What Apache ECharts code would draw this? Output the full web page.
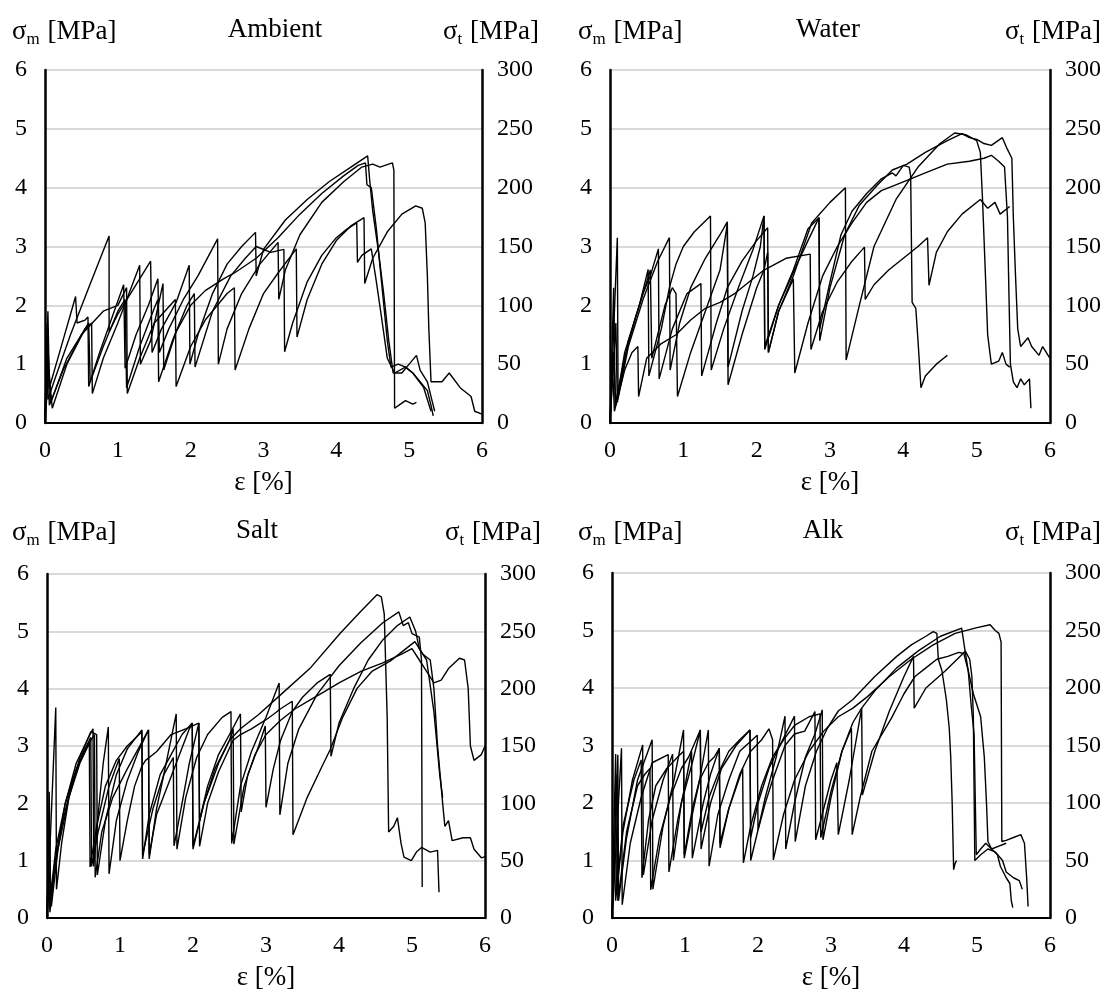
<!DOCTYPE html>
<html>
<head>
<meta charset="utf-8">
<script src="https://cdn.jsdelivr.net/npm/echarts@6/dist/echarts.min.js"></script>
<style>html,body{margin:0;padding:0;background:#fff;}#c{width:1113px;height:999px;}</style>
</head>
<body>
<div id="c"></div>
<script>
// ---------- panel names / tick settings ----------
const panelNames = ['Ambient', 'Water', 'Salt', 'Alk'];
const strainTicks = [0, 1, 2, 3, 4, 5, 6];
const matrixStressMax = 6;     // σm axis 0..6
const textileStressMax = 300;  // σt axis 0..300

// ---------- Ambient: [ε %, σm MPa] ----------
const ambient1 = [[0,0],[0.02,1.4],[0.04,0.4],[0.15,0.8],[0.35,1.5],[0.6,2.3],[0.88,3.18],[0.88,1.55],[1.0,1.85],[1.2,2.25],[1.45,2.75],[1.47,1.2],[1.6,1.6],[1.8,2.05],[1.98,2.68],[1.99,1.0],[2.1,1.5],[2.3,2.2],[2.5,2.7],[2.7,3.0],[2.89,3.24],[2.9,2.5],[3.0,2.95],[3.3,3.45],[3.6,3.8],[3.9,4.1],[4.2,4.35],[4.43,4.54],[4.46,4.1],[4.5,3.6],[4.58,2.9],[4.65,2.2],[4.72,1.4],[4.78,0.85],[4.9,0.85],[5.0,1.0],[5.1,1.15],[5.15,0.9],[5.25,0.7],[5.32,0.35],[5.35,0.2]];
const ambient2 = [[0,0],[0.04,1.9],[0.06,0.6],[0.2,1.2],[0.42,2.15],[0.44,1.7],[0.55,1.75],[0.59,1.8],[0.6,0.62],[0.75,1.2],[0.95,1.9],[1.08,2.35],[1.1,0.93],[1.25,1.5],[1.42,2.0],[1.55,2.45],[1.57,1.2],[1.7,1.6],[1.9,2.1],[2.1,2.5],[2.37,3.13],[2.38,1.0],[2.5,1.6],[2.7,2.2],[2.95,2.7],[3.2,3.07],[3.21,2.1],[3.3,2.6],[3.5,3.2],[3.8,3.75],[4.1,4.1],[4.35,4.35],[4.5,4.4],[4.6,4.35],[4.77,4.42],[4.79,4.3],[4.8,0.25],[4.88,0.32],[4.95,0.38],[5.05,0.32],[5.1,0.35]];
const ambient3 = [[0,0],[0.05,0.9],[0.1,0.25],[0.3,1.0],[0.55,1.6],[0.64,1.7],[0.65,0.5],[0.8,1.1],[1.0,1.7],[1.3,2.68],[1.31,1.0],[1.45,1.4],[1.62,2.37],[1.63,0.9],[1.8,1.55],[2.0,2.0],[2.2,2.25],[2.45,2.45],[2.6,2.55],[2.9,2.8],[3.2,3.15],[3.5,3.55],[3.8,3.9],[4.1,4.2],[4.3,4.38],[4.4,4.42],[4.42,4.05],[4.48,4.0],[4.55,3.3],[4.62,2.4],[4.7,1.4],[4.75,0.95],[4.85,1.0],[4.95,0.95],[5.05,0.85],[5.15,0.7],[5.25,0.55],[5.3,0.3],[5.33,0.12]];
const ambient4 = [[0,0],[0.03,1.7],[0.06,0.3],[0.25,0.9],[0.5,1.5],[0.8,1.9],[1.0,2.0],[1.12,2.3],[1.13,0.5],[1.3,1.1],[1.5,1.7],[1.79,2.1],[1.8,0.62],[2.0,1.3],[2.2,1.75],[2.5,2.2],[2.6,2.3],[2.61,0.9],[2.8,1.6],[3.0,2.2],[3.2,2.55],[3.45,2.96],[3.46,1.46],[3.6,2.1],[3.8,2.7],[4.0,3.1],[4.2,3.35],[4.38,3.49],[4.39,2.37],[4.5,2.8],[4.7,3.25],[4.9,3.55],[5.09,3.69],[5.18,3.65],[5.22,3.4],[5.25,2.5],[5.27,1.6],[5.3,0.7],[5.45,0.7],[5.55,0.85],[5.7,0.6],[5.85,0.45],[5.9,0.2],[6.0,0.15]];
const ambient5 = [[0,0],[0.04,1.3],[0.08,0.35],[0.3,1.1],[0.6,1.7],[0.62,0.7],[0.8,1.3],[1.0,1.9],[1.1,2.1],[1.12,0.6],[1.3,1.3],[1.5,1.95],[1.55,2.1],[1.56,0.7],[1.75,1.4],[1.95,2.0],[2.05,2.2],[2.06,0.95],[2.3,1.9],[2.55,2.5],[2.75,2.8],[2.9,3.0],[3.1,2.9],[3.28,2.95],[3.29,1.21],[3.4,1.7],[3.6,2.4],[3.8,2.85],[4.0,3.15],[4.15,3.3],[4.28,3.4],[4.29,2.73],[4.35,2.85],[4.48,2.96],[4.55,2.4],[4.62,1.8],[4.7,1.1],[4.8,0.85],[4.95,0.95],[5.05,0.85],[5.2,0.6],[5.3,0.2]];

// ---------- Water ----------
const water1 = [[0,0],[0.05,1.2],[0.08,0.3],[0.2,1.2],[0.4,2.0],[0.52,2.61],[0.53,0.8],[0.7,1.6],[0.81,2.3],[0.9,2.7],[1.0,3.0],[1.15,3.25],[1.37,3.52],[1.38,0.9],[1.55,1.6],[1.75,2.3],[1.95,2.95],[2.1,3.52],[2.11,1.3],[2.3,2.0],[2.55,2.7],[2.7,3.1],[2.85,3.49],[2.86,1.6],[3.0,2.4],[3.15,3.2],[3.3,3.6],[3.5,3.9],[3.7,4.15],[3.85,4.25],[3.9,4.2],[4.0,4.38],[4.08,4.35],[4.1,4.2],[4.12,2.05],[4.17,1.95],[4.2,1.4],[4.24,0.6],[4.3,0.8],[4.45,1.0],[4.55,1.1],[4.6,1.15]];
const water2 = [[0,0],[0.1,3.15],[0.11,0.45],[0.25,1.4],[0.45,2.2],[0.55,2.5],[0.66,2.96],[0.67,0.75],[0.85,1.6],[1.05,2.2],[1.24,2.37],[1.25,0.8],[1.45,1.7],[1.6,2.3],[1.8,2.75],[2.0,3.1],[2.15,3.32],[2.16,1.2],[2.3,1.9],[2.5,2.5],[2.75,3.4],[3.0,3.75],[3.21,4.0],[3.22,1.07],[3.4,2.0],[3.6,3.0],[3.9,3.8],[4.2,4.35],[4.5,4.75],[4.7,4.93],[4.85,4.9],[5.0,4.8],[5.05,4.6],[5.08,3.8],[5.12,2.5],[5.15,1.5],[5.2,1.0],[5.3,1.05],[5.35,1.2],[5.4,1.0],[5.45,0.95]];
const water3 = [[0,0],[0.08,1.7],[0.1,0.35],[0.25,1.3],[0.45,2.1],[0.65,2.75],[0.81,3.15],[0.82,0.9],[0.95,1.7],[1.1,2.3],[1.3,2.8],[1.5,3.2],[1.6,3.42],[1.61,0.95],[1.8,1.9],[1.95,2.5],[2.05,3.0],[2.1,3.52],[2.11,1.25],[2.3,2.0],[2.5,2.6],[2.7,3.3],[2.85,3.49],[2.86,1.4],[3.0,2.3],[3.2,3.2],[3.4,3.7],[3.65,4.05],[3.85,4.3],[4.05,4.4],[4.3,4.6],[4.6,4.8],[4.8,4.92],[4.9,4.85],[5.0,4.82],[5.1,4.75],[5.2,4.72],[5.35,4.85],[5.42,4.65],[5.48,4.5],[5.5,3.5],[5.53,2.5],[5.56,1.6],[5.6,1.3],[5.7,1.45],[5.75,1.3],[5.85,1.15],[5.9,1.3],[6.0,1.1]];
const water4 = [[0,0],[0.05,2.3],[0.07,0.3],[0.2,1.1],[0.35,1.8],[0.5,2.4],[0.55,2.6],[0.57,1.1],[0.75,2.0],[0.85,2.3],[0.9,2.2],[0.92,0.45],[1.1,1.2],[1.3,1.9],[1.5,2.6],[1.6,3.38],[1.61,0.65],[1.8,1.5],[2.0,2.3],[2.1,2.6],[2.15,2.9],[2.16,1.2],[2.3,1.9],[2.5,2.45],[2.52,0.85],[2.7,1.7],[2.9,2.5],[3.1,3.0],[3.3,3.4],[3.5,3.75],[3.7,3.95],[4.0,4.1],[4.3,4.25],[4.6,4.4],[4.9,4.45],[5.1,4.5],[5.2,4.55],[5.3,4.45],[5.38,4.35],[5.42,3.5],[5.44,2.2],[5.46,1.0],[5.5,0.7],[5.55,0.6],[5.6,0.75],[5.65,0.65],[5.72,0.75],[5.74,0.25]];
const water5 = [[0,0],[0.03,1.1],[0.06,0.2],[0.2,0.9],[0.3,1.2],[0.38,1.3],[0.39,0.45],[0.5,1.1],[0.7,1.35],[0.9,1.5],[1.1,1.75],[1.3,1.95],[1.5,2.05],[1.7,2.2],[1.9,2.4],[2.1,2.6],[2.4,2.8],[2.73,2.87],[2.74,1.25],[2.9,1.9],[3.1,2.4],[3.3,2.75],[3.47,2.99],[3.48,2.1],[3.6,2.35],[3.8,2.6],[4.0,2.8],[4.2,3.0],[4.33,3.15],[4.35,2.34],[4.45,2.9],[4.6,3.25],[4.8,3.55],[5.05,3.8],[5.15,3.65],[5.25,3.75],[5.32,3.55],[5.45,3.68]];

// ---------- Salt ----------
const salt1 = [[0,0],[0.12,3.67],[0.13,0.5],[0.2,1.3],[0.3,2.1],[0.45,2.8],[0.6,3.25],[0.68,3.2],[0.69,0.75],[0.8,1.7],[0.95,2.5],[1.1,2.95],[1.3,3.28],[1.31,1.03],[1.4,1.8],[1.55,2.5],[1.7,2.85],[1.85,3.2],[1.99,3.40],[2.0,1.2],[2.15,2.0],[2.3,2.6],[2.5,3.1],[2.65,3.3],[2.9,3.55],[3.18,3.87],[3.6,4.35],[4.02,4.97],[4.3,5.35],[4.52,5.64],[4.58,5.6],[4.62,5.3],[4.66,3.5],[4.68,1.5],[4.75,1.6],[4.8,1.75],[4.85,1.3],[4.89,1.06],[4.99,1.0],[5.06,1.15],[5.13,1.23],[5.25,1.15],[5.35,1.18],[5.37,0.45]];
const salt2 = [[0,0],[0.03,1.6],[0.05,0.3],[0.1,0.9],[0.25,2.0],[0.4,2.7],[0.55,3.1],[0.63,3.3],[0.64,0.9],[0.7,1.8],[0.77,2.7],[0.84,3.33],[0.85,0.77],[0.95,1.7],[1.1,2.4],[1.25,2.9],[1.39,3.28],[1.4,1.03],[1.5,1.9],[1.6,2.5],[1.77,3.56],[1.78,1.2],[1.9,2.1],[2.05,2.8],[2.2,3.2],[2.4,3.5],[2.52,3.6],[2.53,1.3],[2.65,2.3],[2.8,2.9],[3.0,3.5],[3.18,4.1],[3.19,1.8],[3.3,2.7],[3.45,3.3],[3.7,3.9],[4.0,4.4],[4.3,4.8],[4.6,5.15],[4.82,5.34],[4.88,5.1],[4.95,5.15],[5.0,4.96],[5.1,4.9],[5.13,4.5],[5.14,0.54]];
const salt3 = [[0,0],[0.02,0.9],[0.04,0.1],[0.1,0.8],[0.2,1.6],[0.35,2.4],[0.5,2.9],[0.6,3.15],[0.61,0.9],[0.7,1.5],[0.85,2.3],[0.99,2.78],[1.0,1.0],[1.1,1.7],[1.2,2.3],[1.3,2.65],[1.35,2.75],[1.5,2.9],[1.7,3.2],[1.9,3.3],[2.08,3.40],[2.09,1.7],[2.2,2.3],[2.35,2.85],[2.5,3.2],[2.65,3.56],[2.66,1.85],[2.75,2.5],[2.9,3.0],[2.99,3.35],[3.0,1.93],[3.1,2.6],[3.2,3.1],[3.36,3.6],[3.5,3.85],[3.7,4.1],[3.88,4.25],[3.89,2.82],[4.0,3.4],[4.2,4.0],[4.4,4.5],[4.6,4.85],[4.8,5.1],[4.97,5.25],[5.05,5.0],[5.1,4.7],[5.2,4.5],[5.3,3.6],[5.38,2.5],[5.42,2.1]];
const salt4 = [[0,0],[0.04,0.8],[0.06,0.2],[0.15,1.2],[0.3,2.1],[0.45,2.7],[0.58,3.05],[0.59,0.89],[0.68,1.6],[0.8,2.3],[0.95,2.75],[1.1,3.0],[1.3,3.25],[1.31,1.1],[1.45,1.9],[1.6,2.5],[1.73,2.8],[1.74,1.26],[1.85,2.0],[1.95,2.7],[2.08,3.40],[2.09,1.25],[2.2,2.0],[2.35,2.55],[2.55,3.1],[2.65,3.2],[2.8,3.3],[2.99,3.45],[3.1,3.55],[3.2,3.65],[3.36,3.78],[3.37,1.45],[3.56,2.09],[3.75,2.6],[3.88,2.94],[4.05,3.5],[4.25,4.01],[4.45,4.3],[4.7,4.48],[5.04,4.82],[5.15,4.6],[5.25,4.5],[5.3,4.0],[5.35,3.0],[5.42,2.0],[5.45,1.6],[5.5,1.7],[5.55,1.35],[5.7,1.4],[5.8,1.4],[5.85,1.2],[5.95,1.05],[6.0,1.07]];
const salt5 = [[0,0],[0.03,2.2],[0.05,0.4],[0.12,1.2],[0.25,2.0],[0.4,2.6],[0.55,3.0],[0.65,3.2],[0.66,0.71],[0.75,1.5],[0.9,2.1],[1.1,2.6],[1.25,2.95],[1.39,3.28],[1.4,1.1],[1.5,1.8],[1.65,2.3],[1.8,2.8],[1.95,3.3],[1.99,3.38],[2.0,1.25],[2.15,2.0],[2.35,2.7],[2.5,3.1],[2.55,3.3],[2.56,1.29],[2.7,2.3],[2.85,2.85],[3.0,3.2],[3.2,3.45],[3.4,3.65],[3.6,3.8],[3.8,3.95],[4.0,4.1],[4.3,4.3],[4.6,4.45],[4.85,4.6],[5.0,4.7],[5.1,4.5],[5.2,4.3],[5.3,4.1],[5.4,4.15],[5.5,4.35],[5.65,4.53],[5.72,4.5],[5.77,4.0],[5.8,3.0],[5.85,2.75],[5.95,2.85],[6.0,3.0]];

// ---------- Alk ----------
const alk1 = [[0,0],[0.05,2.85],[0.06,0.4],[0.15,1.5],[0.28,2.4],[0.42,3.01],[0.43,0.75],[0.55,1.7],[0.7,2.4],[0.83,2.85],[0.84,1.0],[0.95,2.0],[1.1,2.7],[1.21,3.27],[1.22,1.2],[1.35,2.0],[1.5,2.6],[1.7,3.0],[1.89,3.27],[1.9,1.4],[2.0,2.0],[2.15,2.6],[2.3,3.0],[2.5,3.51],[2.51,1.33],[2.65,2.3],[2.8,2.9],[2.95,3.3],[3.1,3.6],[3.3,3.8],[3.6,4.2],[3.9,4.55],[4.1,4.75],[4.3,4.9],[4.4,4.98],[4.45,4.95],[4.47,4.5],[4.52,4.3],[4.58,3.8],[4.62,3.3],[4.64,2.8],[4.66,2.0],[4.68,0.84],[4.7,0.95],[4.72,1.0]];
const alk2 = [[0,0],[0.08,2.84],[0.09,0.3],[0.2,1.4],[0.35,2.4],[0.55,3.10],[0.56,0.5],[0.7,1.6],[0.85,2.4],[0.98,3.27],[0.99,1.04],[1.1,1.8],[1.2,2.4],[1.32,3.27],[1.33,0.9],[1.45,1.8],[1.6,2.4],[1.75,2.9],[1.99,3.18],[2.0,1.53],[2.1,2.1],[2.25,2.8],[2.37,3.51],[2.38,1.2],[2.5,2.0],[2.65,2.8],[2.78,3.2],[2.88,3.62],[2.89,1.36],[3.0,2.1],[3.15,2.9],[3.3,3.4],[3.42,3.65],[3.6,3.95],[3.9,4.35],[4.2,4.65],[4.5,4.9],[4.79,5.04],[4.83,4.7],[4.88,4.3],[4.92,3.7],[4.96,3.2],[4.99,1.1],[5.05,1.2],[5.12,1.3],[5.2,1.2],[5.3,1.25],[5.4,1.3]];
const alk3 = [[0,0],[0.13,2.95],[0.14,0.23],[0.25,1.3],[0.4,2.1],[0.55,2.7],[0.77,2.84],[0.78,0.8],[0.9,1.7],[1.0,2.3],[1.09,2.9],[1.1,1.04],[1.25,2.0],[1.35,2.5],[1.47,2.95],[1.48,1.22],[1.6,1.9],[1.75,2.5],[1.9,2.9],[2.05,3.1],[2.15,3.29],[2.2,3.1],[2.21,1.01],[2.35,1.8],[2.5,2.4],[2.7,2.9],[2.9,3.25],[3.1,3.5],[3.3,3.65],[3.5,3.85],[3.8,4.2],[4.1,4.5],[4.4,4.75],[4.7,4.95],[5.0,5.05],[5.18,5.10],[5.25,5.0],[5.3,4.95],[5.33,4.8],[5.34,1.33],[5.4,1.35],[5.5,1.4],[5.6,1.45],[5.65,1.3],[5.68,0.7],[5.7,0.2]];
const alk4 = [[0,0],[0.03,1.1],[0.05,0.3],[0.15,1.6],[0.3,2.4],[0.4,2.75],[0.41,0.7],[0.5,1.7],[0.6,2.3],[0.75,2.6],[0.9,2.8],[0.98,2.9],[0.99,1.1],[1.1,1.9],[1.2,2.4],[1.32,2.7],[1.4,2.8],[1.47,2.95],[1.48,1.3],[1.6,1.9],[1.79,2.6],[1.8,0.96],[1.9,1.6],[2.05,2.3],[2.2,2.8],[2.35,3.1],[2.5,3.35],[2.7,3.5],[2.85,3.55],[2.86,1.4],[3.0,2.2],[3.15,2.9],[3.28,3.3],[3.29,1.45],[3.4,2.1],[3.56,2.9],[3.83,3.48],[4.0,3.9],[4.15,4.2],[4.3,4.35],[4.45,4.5],[4.6,4.55],[4.75,4.62],[4.82,4.6],[4.88,4.3],[4.95,3.9],[5.05,3.5],[5.1,2.8],[5.13,2.0],[5.15,1.33],[5.2,1.2],[5.28,1.1],[5.32,0.9],[5.4,0.7],[5.45,0.6],[5.47,0.3],[5.49,0.18]];
const alk5 = [[0,0],[0.07,2.5],[0.08,0.3],[0.2,1.5],[0.35,2.3],[0.45,2.5],[0.52,2.6],[0.53,0.49],[0.65,1.4],[0.8,2.1],[0.95,2.6],[1.05,2.8],[1.21,3.27],[1.22,1.5],[1.33,2.1],[1.45,2.5],[1.6,2.9],[1.75,3.1],[1.89,3.27],[1.9,1.0],[2.0,1.53],[2.1,2.0],[2.2,2.4],[2.37,3.0],[2.5,3.2],[2.64,3.25],[2.78,3.59],[2.79,1.36],[2.9,1.9],[3.0,2.4],[3.08,2.7],[3.1,1.45],[3.25,2.4],[3.42,3.65],[3.43,2.14],[3.6,2.9],[3.8,3.6],[4.0,4.2],[4.13,4.55],[4.14,3.65],[4.3,4.0],[4.56,4.29],[4.84,4.64],[4.9,4.5],[4.93,4.2],[4.95,3.5],[4.97,1.0],[5.05,1.1],[5.15,1.2],[5.25,1.15],[5.35,1.0],[5.4,0.8],[5.5,0.7],[5.58,0.65],[5.62,0.5]];

const panelCurves = [
  [ambient1, ambient2, ambient3, ambient4, ambient5],
  [water1, water2, water3, water4, water5],
  [salt1, salt2, salt3, salt4, salt5],
  [alk1, alk2, alk3, alk4, alk5]
];

// ---------- layout ----------
const FONT = '"Liberation Serif", "Times New Roman", serif';
const grids = [
  {left: 45, top: 70, width: 437, height: 353},
  {left: 610, top: 70, width: 440, height: 353},
  {left: 47, top: 574, width: 438, height: 344},
  {left: 612, top: 573, width: 438, height: 345}
];
const titleRows = [15, 15, 516, 516];
const leftTitleX = [12, 578, 12, 578];
const centerTitleX = [275, 828, 257, 823];
const rightTitleR = [574, 12, 572, 12];

const xAxes = [], yAxes = [], series = [], titles = [];
const rich = {
  a: {fontFamily: FONT, fontSize: 27, fontWeight: 'normal', color: '#000'},
  b: {fontFamily: FONT, fontSize: 17, fontWeight: 'normal', color: '#000', padding: [16, 1, 0, 0]}
};
grids.forEach((g, i) => {
  xAxes.push({
    gridIndex: i, type: 'value', min: strainTicks[0], max: strainTicks[strainTicks.length - 1], interval: 1,
    axisLine: {show: true, onZero: false, lineStyle: {color: '#000', width: 2}},
    axisTick: {show: false}, splitLine: {show: false},
    axisLabel: {color: '#000', fontFamily: FONT, fontSize: 24, margin: 16},
    name: 'ε [%]', nameLocation: 'middle', nameGap: 46,
    nameTextStyle: {color: '#000', fontFamily: FONT, fontSize: 27}
  });
  yAxes.push({
    gridIndex: i, type: 'value', position: 'left', min: 0, max: matrixStressMax, interval: 1,
    axisLine: {show: true, lineStyle: {color: '#000', width: 2.5}},
    axisTick: {show: false},
    splitLine: {show: true, lineStyle: {color: '#d9d9d9', width: 2}},
    axisLabel: {color: '#000', fontFamily: FONT, fontSize: 24, margin: 18}
  });
  yAxes.push({
    gridIndex: i, type: 'value', position: 'right', min: 0, max: textileStressMax, interval: 50,
    axisLine: {show: true, lineStyle: {color: '#000', width: 2.5}},
    axisTick: {show: false}, splitLine: {show: false},
    axisLabel: {color: '#000', fontFamily: FONT, fontSize: 24, margin: 15}
  });
  panelCurves[i].forEach(c => {
    series.push({
      type: 'line', xAxisIndex: i, yAxisIndex: 2 * i, data: c,
      showSymbol: false, symbol: 'none', silent: true,
      lineStyle: {color: '#000', width: 1.4}
    });
  });
  titles.push({text: '{a|σ}{b|m}{a| [MPa]}', left: leftTitleX[i], top: titleRows[i], padding: 0,
    textStyle: {fontWeight: 'normal', rich: rich}});
  titles.push({text: panelNames[i], left: centerTitleX[i], top: titleRows[i] + 1, padding: 0, textAlign: 'center',
    textStyle: {fontFamily: FONT, fontSize: 27, fontWeight: 'normal', color: '#000'}});
  titles.push({text: '{a|σ}{b|t}{a| [MPa]}', right: rightTitleR[i], top: titleRows[i], padding: 0,
    textStyle: {fontWeight: 'normal', rich: rich}});
});

const chart = echarts.init(document.getElementById('c'), null, {renderer: 'canvas'});
chart.setOption({
  animation: false,
  backgroundColor: '#fff',
  title: titles,
  grid: grids,
  xAxis: xAxes,
  yAxis: yAxes,
  series: series
});
</script>
</body>
</html>
